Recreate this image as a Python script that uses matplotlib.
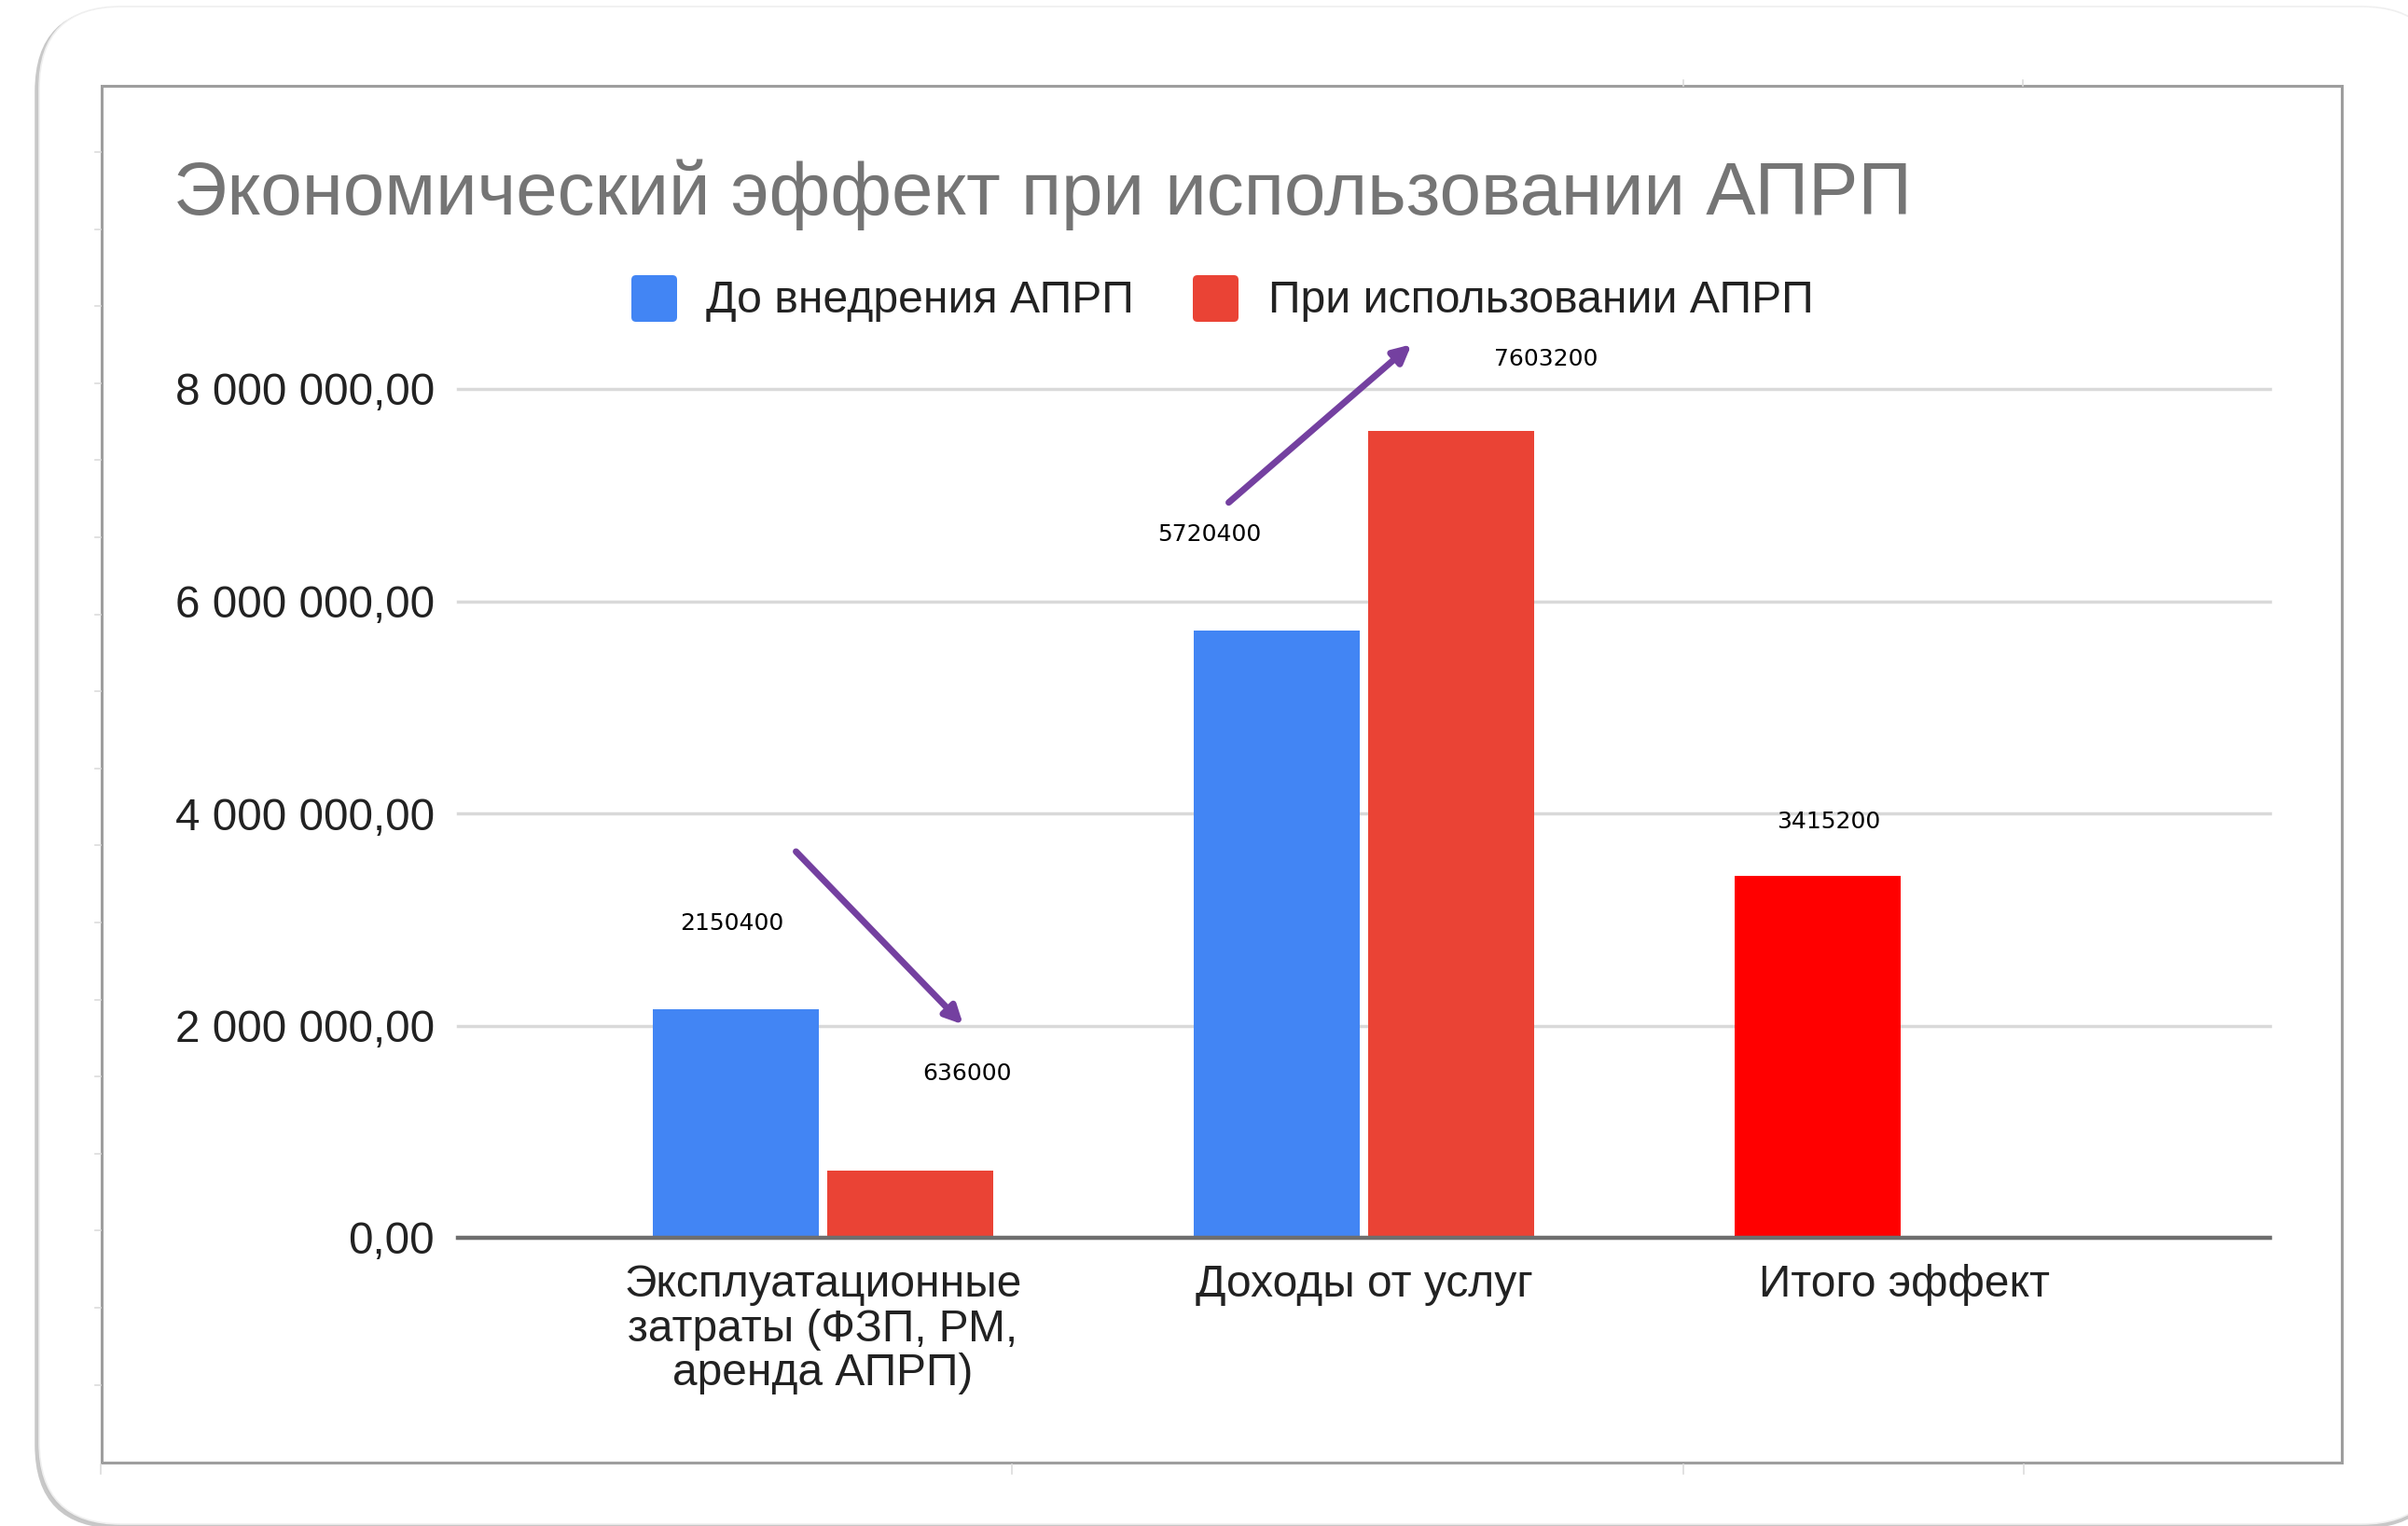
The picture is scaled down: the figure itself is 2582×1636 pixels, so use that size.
import matplotlib
matplotlib.use('Agg')
import matplotlib.pyplot as plt
from matplotlib.patches import FancyBboxPatch, Rectangle
from matplotlib.lines import Line2D
from matplotlib.ticker import FuncFormatter, MultipleLocator
import numpy as np

# data
categories = ['Эксплуатационные\nзатраты (ФЗП, РМ,\nаренда АПРП)', 'Доходы от услуг', 'Итого эффект']
series_names = ['До внедрения АПРП', 'При использовании АПРП']
before = [2150400, 5720400, 3415200]
after = [636000, 7603200, 0]
before_colors = ['#4285f4', '#4285f4', '#ff0000']  # last point recoloured in the sheet
after_color = '#ea4335'

# hand-placed text boxes: (text, category, x offset, y)
free_labels = [
    ('2150400', 0, -0.169, 2.96e6),
    ('636000', 0, 0.267, 1.55e6),
    ('5720400', 1, -0.286, 6.63e6),
    ('7603200', 1, 0.336, 8.28e6),
    ('3415200', 2, -0.141, 3.92e6),
]
# hand-drawn arrows: (x0, y0) -> (x1, y1)
arrows = [
    ((-0.05, 3.64e6), (0.259, 2.01e6)),
    ((0.75, 6.93e6), (1.088, 8.42e6)),
]

W, H = 2582, 1636
FONT = 'Liberation Sans'
TXT = '#222222'

fig = plt.figure(figsize=(W / 100, H / 100), dpi=100)
fig.patch.set_facecolor('white')

px = fig.dpi_scale_trans  # inches, from bottom-left


def top(y):
    # screen y (from top, px) -> inches from bottom
    return (H - y) / 100


# rounded card with a soft shadow on the left / bottom
shadow = FancyBboxPatch((0.39, top(1637)), 26.2 - 0.39, top(10) - top(1637),
                        boxstyle='round,pad=0,rounding_size=0.88',
                        transform=px, facecolor='#c4c4c4', edgecolor='#c8c8c8', lw=2.5, zorder=0)
card = FancyBboxPatch((0.42, top(1634)), 26.2 - 0.42, top(7) - top(1634),
                      boxstyle='round,pad=0,rounding_size=0.88',
                      transform=px, facecolor='white', edgecolor='#efefef', lw=1.2, zorder=0.5)
fig.add_artist(shadow)
fig.add_artist(card)

# inner chart frame
frame = Rectangle((1.09, top(1568)), 25.11 - 1.09, top(92) - top(1568),
                  transform=px, facecolor='white', edgecolor='#9e9e9e', lw=2.2, zorder=1)
fig.add_artist(frame)

# faint spreadsheet cell marks around the frame
tick_kw = dict(transform=px, color='#dcdcdc', lw=1.2, zorder=1)
for x in [108, 1085, 1805, 2170]:
    fig.add_artist(Line2D([x / 100, x / 100], [top(1570), top(1580)], **tick_kw))
for x in [1805, 2169]:
    fig.add_artist(Line2D([x / 100, x / 100], [top(86), top(92)], **tick_kw))
for y in np.arange(163, 1490, 82.6):
    fig.add_artist(Line2D([1.02, 1.08], [top(y), top(y)], **tick_kw))

# plot area
ax = fig.add_axes([491 / W, 1 - 1327 / H, (2434 - 491) / W, (1327 - 417) / H])
ax.set_facecolor('none')
ax.set_zorder(2)

x = np.arange(len(categories))
width = 0.307
off = 0.162
ax.bar(x - off, before, width, color=before_colors, zorder=2)
ax.bar(x + off, after, width, color=after_color, zorder=2)

ax.set_xlim(-0.675, 2.675)
ax.set_ylim(0, 8e6)
ax.yaxis.set_major_locator(MultipleLocator(2e6))
ax.yaxis.set_major_formatter(FuncFormatter(
    lambda v, p: f'{v:,.2f}'.replace(',', ' ').replace('.', ',')))
ax.yaxis.grid(True, color='#d9d9d9', lw=2.5)
for gl in ax.get_ygridlines():
    gl.set_clip_on(False)
ax.set_axisbelow(True)
ax.axhline(0, color='#6e6e6e', lw=3.2, zorder=3, clip_on=False)

for s in ax.spines.values():
    s.set_visible(False)

ax.set_xticks(x)
ax.set_xticklabels(categories, fontfamily=FONT, fontsize=34.5,
                   color=TXT, linespacing=1.08)
ax.tick_params(axis='x', length=0, pad=20)
ax.tick_params(axis='y', length=0, pad=18, labelsize=34.3, labelcolor=TXT)
for lab in ax.get_yticklabels():
    lab.set_fontfamily(FONT)

# free text boxes and arrows
for txt, cat, dx, y in free_labels:
    ax.text(cat + dx, y, txt, ha='center', va='center', fontsize=18,
            fontfamily='DejaVu Sans', color='black', clip_on=False, zorder=5)
for (x0, y0), (x1, y1) in arrows:
    ax.annotate('', xy=(x1, y1), xytext=(x0, y0), annotation_clip=False,
                arrowprops=dict(arrowstyle='-|>', color='#7440a0', lw=5,
                                mutation_scale=28, shrinkA=0, shrinkB=0), zorder=5)

# title
fig.text(186 / W, 1 - 230 / H, 'Экономический эффект при использовании АПРП',
         fontfamily=FONT, fontsize=57.5, color='#757575', va='baseline', ha='left')

# legend drawn by hand
leg = [(677, before_colors[0], 757, series_names[0]), (1279, after_color, 1360, series_names[1])]
for sx, col, tx, name in leg:
    fig.add_artist(FancyBboxPatch((sx / 100, top(345)), 0.49, 0.5,
                                  boxstyle='round,pad=0,rounding_size=0.05',
                                  transform=px, facecolor=col, edgecolor='none', zorder=3))
    fig.text(tx / W, 1 - 335 / H, name, fontfamily=FONT, fontsize=34.7,
             color=TXT, va='baseline', ha='left')

fig.savefig('out.png', dpi=100)
